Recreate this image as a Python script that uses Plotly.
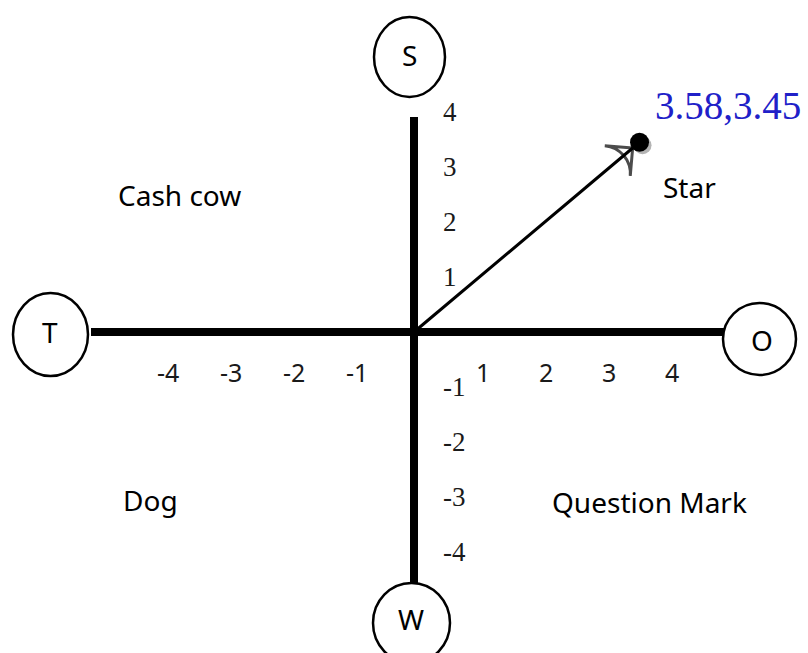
import plotly.graph_objects as go

# ---- data ----
point_x = 3.58
point_y = 3.45
x_tick_values = [-4, -3, -2, -1, 1, 2, 3, 4]
x_tick_labels = ["-4", "-3", "-2", "-1", "1", "2", "3", "4"]
y_tick_values = [4, 3, 2, 1, -1, -2, -3, -4]
y_tick_labels = ["4", "3", "2", "1", "-1", "-2", "-3", "-4"]
quadrant_names = ["Cash cow", "Star", "Dog", "Question Mark"]
pole_letters = ["S", "W", "T", "O"]

# ---- layout geometry ----
W, H = 808, 653
OX, OY = 414, 332          # pixel position of the origin
SX, SY = 63, 55            # pixels per unit

def px(x):
    return x / W

def py(y):
    return 1 - y / H

fig = go.Figure()

# arrow from origin to the point
fig.add_trace(go.Scatter(
    x=[0, point_x], y=[0, point_y], mode="lines+markers",
    line=dict(color="black", width=3),
    marker=dict(symbol=["circle", "arrow-wide-open"], size=[0, 28],
                angleref="previous", standoff=[0, 9],
                color="black", line=dict(color="black", width=3)),
    hoverinfo="skip", showlegend=False))
# the point
fig.add_trace(go.Scatter(
    x=[point_x], y=[point_y], mode="markers",
    marker=dict(symbol="circle", size=19, color="black"),
    hoverinfo="skip", showlegend=False))

shapes = []
# shadow of point
shapes.append(dict(type="circle", xref="x", yref="y", xsizemode="pixel", ysizemode="pixel",
                   xanchor=point_x, yanchor=point_y, x0=-6, x1=12, y0=-12, y1=6,
                   fillcolor="#b4b4b4", line=dict(width=0), layer="below"))
# axes
shapes.append(dict(type="line", xref="paper", yref="paper", x0=px(91), x1=px(724),
                   y0=py(OY), y1=py(OY), line=dict(color="black", width=8)))
shapes.append(dict(type="line", xref="paper", yref="paper", x0=px(OX), x1=px(OX),
                   y0=py(117), y1=py(584), line=dict(color="black", width=8)))
# pole circles
circles = {"S": (374, 17, 445, 97), "T": (13, 293, 88, 376),
           "O": (723, 303, 796, 375), "W": (373, 583, 450, 663)}
for k in pole_letters:
    x0, y0, x1, y1 = circles[k]
    shapes.append(dict(type="circle", xref="paper", yref="paper",
                       x0=px(x0), x1=px(x1), y0=py(y1), y1=py(y0),
                       fillcolor="white", line=dict(color="black", width=2.5)))

annotations = []
letter_pos = {"S": (409, 55), "T": (50, 332), "O": (762, 340), "W": (411, 619)}
for k in pole_letters:
    x, y = letter_pos[k]
    annotations.append(dict(text=k, xref="paper", yref="paper", x=px(x), y=py(y),
                            showarrow=False, xanchor="center", yanchor="middle",
                            font=dict(family="Noto Sans", size=28, color="black")))

quad_pos = [(179, 195), (689, 187), (150, 500), (649, 502)]
for name, (x, y) in zip(quadrant_names, quad_pos):
    annotations.append(dict(text=name, xref="paper", yref="paper", x=px(x), y=py(y),
                            showarrow=False, xanchor="center", yanchor="middle",
                            font=dict(family="Noto Sans", size=28, color="black")))

for v, t in zip(x_tick_values, x_tick_labels):
    annotations.append(dict(text=t, xref="x", yref="y", x=v, y=0, xshift=6, yshift=-40,
                            showarrow=False, xanchor="center", yanchor="middle",
                            font=dict(family="Noto Sans", size=25, color="#1a1a1a")))
for v, t in zip(y_tick_values, y_tick_labels):
    annotations.append(dict(text=t, xref="x", yref="y", x=0, y=v, xshift=27, yshift=0,
                            showarrow=False, xanchor="left", yanchor="middle",
                            font=dict(family="Liberation Serif", size=27, color="#1a1a1a")))

annotations.append(dict(text=f"{point_x},{point_y}", xref="x", yref="y", x=point_x, y=point_y,
                        xshift=88, yshift=37, showarrow=False, xanchor="center", yanchor="middle",
                        font=dict(family="Liberation Serif", size=39, color="#2020c8")))

fig.update_layout(
    width=W, height=H, margin=dict(l=0, r=0, t=0, b=0),
    paper_bgcolor="white", plot_bgcolor="white",
    xaxis=dict(range=[-OX / SX, (W - OX) / SX], visible=False, fixedrange=True),
    yaxis=dict(range=[(OY - H) / SY, OY / SY], visible=False, fixedrange=True),
    shapes=shapes, annotations=annotations, showlegend=False,
)

fig.write_html("out.html", config={"displayModeBar": False},
               post_script="document.body.style.margin='0';document.body.style.overflow='hidden';")
